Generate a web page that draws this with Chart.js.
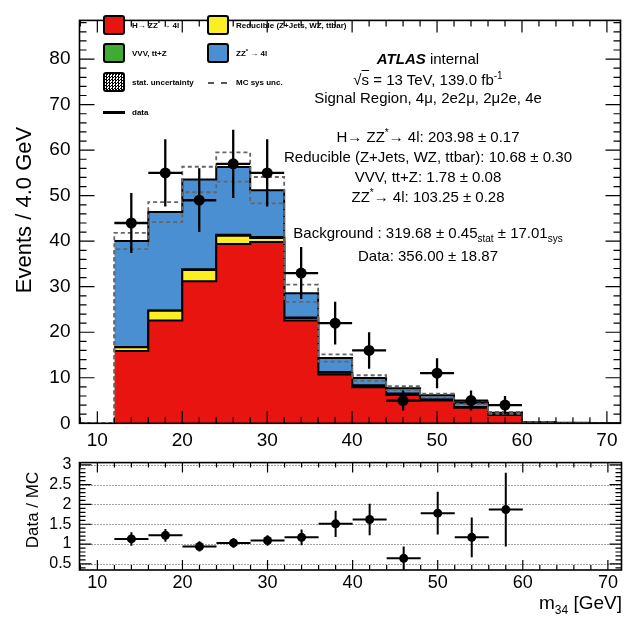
<!DOCTYPE html>
<html>
<head>
<meta charset="utf-8">
<script src="https://cdn.jsdelivr.net/npm/chart.js@4.4.1/dist/chart.umd.min.js"></script>
<style>
  body { margin: 0; background: #fff; }
  #wrap { position: relative; width: 626px; height: 618px; overflow: hidden; font-family: "Liberation Sans", Arial, sans-serif; color: #000; }
  canvas { position: absolute; left: 0; }
  #topChart { top: 0; }
  #ratioChart { top: 445px; }
  .box { position: absolute; width: 22px; height: 20px; border: 2px solid #000; border-radius: 3px; box-sizing: border-box; }
  .leg { position: absolute; font-size: 8px; line-height: 10px; font-weight: bold; white-space: nowrap; transform: translateY(-50%); }
  .leg sup { font-size: 6px; line-height: 0; vertical-align: 3px; }
  .txt { position: absolute; left: 428px; font-size: 15px; line-height: 18px; white-space: nowrap; transform: translate(-50%, -50%); }
  .txt sup { font-size: 10px; line-height: 0; vertical-align: 6px; }
  .txt sub { font-size: 10px; line-height: 0; vertical-align: -4px; }
  .ytitle { position: absolute; white-space: nowrap; transform: translate(-50%, -50%) rotate(-90deg); }
</style>
</head>
<body>
<div id="wrap">
  <canvas id="topChart" width="626" height="450"></canvas>
  <canvas id="ratioChart" width="626" height="173"></canvas>

  <!-- legend -->
  <div class="box" style="left:103px; top:15px; background:#e8140f;"></div>
  <div class="leg" style="left:132px; top:26px;">H&rarr; ZZ<sup>*</sup> &rarr; 4l</div>
  <div class="box" style="left:207px; top:15px; background:#fbee22;"></div>
  <div class="leg" style="left:236px; top:26px;">Reducible (Z+Jets, WZ, ttbar)</div>
  <div class="box" style="left:103px; top:43px; background:#3fab35;"></div>
  <div class="leg" style="left:132px; top:54px;">VVV, tt+Z</div>
  <div class="box" style="left:207px; top:43px; background:#4a8fd2;"></div>
  <div class="leg" style="left:236px; top:54px;">ZZ<sup>*</sup> &rarr; 4l</div>
  <div class="box" style="left:103px; top:72px; background: repeating-conic-gradient(#000 0 25%, #fff 0 50%) 0 0 / 3px 3px;"></div>
  <div class="leg" style="left:132px; top:83px;">stat. uncertainty</div>
  <div style="position:absolute; left:208px; top:82px; width:19px; border-top:2px dashed #555;"></div>
  <div class="leg" style="left:236px; top:83px;">MC sys unc.</div>
  <div style="position:absolute; left:103px; top:111px; width:22px; border-top:3px solid #000;"></div>
  <div class="leg" style="left:132px; top:113px;">data</div>

  <!-- labels -->
  <div class="txt" style="top:59px;"><b><i>ATLAS</i></b> internal</div>
  <div class="txt" style="top:80px;">&radic;<span style="text-decoration:overline">s</span> = 13 TeV, 139.0 fb<sup>-1</sup></div>
  <div class="txt" style="top:98px;">Signal Region, 4&mu;, 2e2&mu;, 2&mu;2e, 4e</div>
  <div class="txt" style="top:137px;">H&rarr; ZZ<sup>*</sup>&rarr; 4l: 203.98 &plusmn; 0.17</div>
  <div class="txt" style="top:157px;">Reducible (Z+Jets, WZ, ttbar): 10.68 &plusmn; 0.30</div>
  <div class="txt" style="top:177px;">VVV, tt+Z: 1.78 &plusmn; 0.08</div>
  <div class="txt" style="top:197px;">ZZ<sup>*</sup>&rarr; 4l: 103.25 &plusmn; 0.28</div>
  <div class="txt" style="top:233px;">Background : 319.68 &plusmn; 0.45<sub>stat</sub> &plusmn; 17.01<sub>sys</sub></div>
  <div class="txt" style="top:256px;">Data: 356.00 &plusmn; 18.87</div>

  <!-- axis titles -->
  <div class="ytitle" style="left:24px; top:210px; font-size:22px;">Events / 4.0 GeV</div>
  <div class="ytitle" style="left:33px; top:510px; font-size:17px;">Data / MC</div>
  <div style="position:absolute; right:4px; top:592px; font-size:19px; white-space:nowrap;">m<sub style="font-size:12px;">34</sub> [GeV]</div>
</div>

<script>
// --- data ---
const binEdges = [12, 16, 20, 24, 28, 32, 36, 40, 44, 48, 52, 56, 60, 64, 68, 72];
const higgs     = [15.9, 22.6, 31.2, 39.4, 39.8, 22.6, 10.7, 7.9, 6.2, 5.0, 3.4, 1.8, 0.10, 0.05, 0];
const reducible = [0.8, 2.1, 2.5, 1.8, 0.9, 0.5, 0.4, 0.3, 0.2, 0.15, 0.1, 0.05, 0, 0, 0];
const vvv       = [0.05, 0.1, 0.15, 0.2, 0.2, 0.15, 0.15, 0.15, 0.12, 0.1, 0.1, 0.05, 0.02, 0.01, 0];
const zz        = [23.3, 21.6, 19.7, 14.9, 10.3, 5.3, 3.1, 1.6, 1.2, 0.9, 0.9, 0.4, 0.13, 0.04, 0];
const sysUnc    = [1.8, 2.2, 2.8, 3.2, 2.9, 1.9, 0.8, 0.6, 0.45, 0.35, 0.3, 0.2, 0.03, 0.01, 0];

const dataX   = [14, 18, 22, 26, 30, 34, 38, 42, 46, 50, 54, 58];
const dataY   = [44, 55, 49, 57, 55, 33, 22, 16, 5, 11, 5, 4];
const dataErr = [6.6, 7.4, 7.0, 7.5, 7.4, 5.7, 4.7, 4.0, 2.2, 3.3, 2.2, 2.0];

const ratioY   = [1.13, 1.22, 0.94, 1.03, 1.09, 1.17, 1.51, 1.62, 0.64, 1.78, 1.17, 1.87];
const ratioErr = [0.17, 0.16, 0.13, 0.12, 0.13, 0.20, 0.33, 0.40, 0.30, 0.54, 0.50, 0.93];

const xTicks      = [10, 20, 30, 40, 50, 60, 70];
const yTicksTop   = [0, 10, 20, 30, 40, 50, 60, 70, 80];
const yTicksRatio = [0.5, 1, 1.5, 2, 2.5, 3];
const binHalf = 2;

Chart.defaults.font.family = "'Liberation Sans', Arial, sans-serif";
Chart.defaults.color = '#000';

// helpers
function cumulate(...parts) {
    return parts[0].map((_, i) => parts.reduce((s, p) => s + p[i], 0));
}
function steps(vals, start) {
    const pts = vals.map((v, i) => ({ x: binEdges[i], y: v }));
    pts.push({ x: binEdges[binEdges.length - 1], y: vals[vals.length - 1] });
    if (start !== undefined) pts.unshift({ x: start, y: 0 });
    return pts;
}
const cRed = cumulate(higgs);
const cYel = cumulate(higgs, reducible);
const cGrn = cumulate(higgs, reducible, vvv);
const cTot = cumulate(higgs, reducible, vvv, zz);
const sysHi = cTot.map((v, i) => v + sysUnc[i]);
const sysLo = cTot.map((v, i) => Math.max(v - sysUnc[i], 0));

// ROOT style frame + inward ticks
const rootFrame = {
    id: 'rootFrame',
    beforeDatasetsDraw(chart, args, o) {
        if (!o.grid) return;
        const { ctx, chartArea: a, scales: { y } } = chart;
        ctx.save();
        ctx.strokeStyle = '#444';
        ctx.lineWidth = 1;
        ctx.setLineDash([1, 2]);
        o.grid.forEach(v => {
            const py = Math.round(y.getPixelForValue(v)) + 0.5;
            ctx.beginPath(); ctx.moveTo(a.left, py); ctx.lineTo(a.right, py); ctx.stroke();
        });
        ctx.restore();
    },
    afterDatasetsDraw(chart, args, o) {
        const { ctx, chartArea: a, scales: { x, y } } = chart;
        ctx.save();
        ctx.strokeStyle = '#000';
        ctx.lineWidth = 1.2;
        ctx.beginPath();
        for (let k = Math.ceil(x.min / o.xMinor); k * o.xMinor <= x.max; k++) {
            const v = k * o.xMinor;
            const major = Math.abs(v / o.xMajor - Math.round(v / o.xMajor)) < 1e-6;
            const len = major ? o.xLen[0] : o.xLen[1];
            const px = x.getPixelForValue(v);
            ctx.moveTo(px, a.bottom); ctx.lineTo(px, a.bottom - len);
            ctx.moveTo(px, a.top); ctx.lineTo(px, a.top + len);
        }
        for (let k = Math.ceil(y.min / o.yMinor - 1e-6); k * o.yMinor <= y.max; k++) {
            const v = k * o.yMinor;
            const major = Math.abs(v / o.yMajor - Math.round(v / o.yMajor)) < 1e-6;
            const len = major ? o.yLen[0] : o.yLen[1];
            const py = y.getPixelForValue(v);
            ctx.moveTo(a.left, py); ctx.lineTo(a.left + len, py);
            ctx.moveTo(a.right, py); ctx.lineTo(a.right - len, py);
        }
        ctx.stroke();
        ctx.lineWidth = 1.6;
        ctx.strokeRect(a.left, a.top, a.width, a.height);
        ctx.restore();
    }
};

// error bars for data points
const errorBars = {
    id: 'errorBars',
    afterDatasetsDraw(chart) {
        const { ctx, chartArea: a, scales: { x, y } } = chart;
        chart.data.datasets.forEach(ds => {
            if (!ds.errY) return;
            ctx.save();
            ctx.beginPath(); ctx.rect(a.left, a.top, a.width, a.height); ctx.clip();
            ctx.strokeStyle = '#000';
            ctx.lineWidth = ds.errWidth;
            ds.data.forEach((p, i) => {
                const px = x.getPixelForValue(p.x), py = y.getPixelForValue(p.y);
                ctx.beginPath();
                ctx.moveTo(x.getPixelForValue(p.x - binHalf), py);
                ctx.lineTo(x.getPixelForValue(p.x + binHalf), py);
                ctx.moveTo(px, y.getPixelForValue(p.y - ds.errY[i]));
                ctx.lineTo(px, y.getPixelForValue(p.y + ds.errY[i]));
                ctx.stroke();
            });
            ctx.restore();
        });
    }
};

function histLine(vals, color, fill) {
    return {
        data: steps(vals), stepped: true, borderColor: '#000', borderWidth: 2,
        backgroundColor: color, fill: fill, pointRadius: 0
    };
}
function sysLine(vals) {
    return {
        data: steps(vals, 8), stepped: true, borderColor: '#666', borderWidth: 1.8,
        borderDash: [4, 3], fill: false, pointRadius: 0
    };
}

const xScale = (h, pad, size) => ({
    type: 'linear', min: 7.9, max: 71.6,
    grid: { display: false, drawTicks: false }, border: { display: false },
    afterBuildTicks: s => { s.ticks = xTicks.map(v => ({ value: v })); },
    afterFit: s => { s.height = h; },
    ticks: { padding: pad, maxRotation: 0, autoSkip: false, font: { size: size } }
});

// --- upper panel ---
new Chart(document.getElementById('topChart'), {
    type: 'line',
    data: {
        datasets: [
            {
                data: dataX.map((v, i) => ({ x: v, y: dataY[i] })),
                showLine: false, pointRadius: 5.5, pointBackgroundColor: '#000', pointBorderWidth: 0,
                errY: dataErr, errWidth: 2.3
            },
            sysLine(sysHi),
            sysLine(sysLo),
            histLine(cRed, '#e8140f', 'origin'),
            histLine(cYel, '#fbee22', '-1'),
            histLine(cGrn, '#3fab35', '-1'),
            histLine(cTot, '#4a8fd2', '-1')
        ]
    },
    options: {
        responsive: false, animation: false,
        layout: { padding: { left: 0, right: 4.5, top: 11.7, bottom: 0 } },
        plugins: {
            legend: { display: false }, tooltip: { enabled: false },
            rootFrame: { xMajor: 10, xMinor: 2, xLen: [12, 6], yMajor: 10, yMinor: 2, yLen: [15, 7] }
        },
        scales: {
            x: xScale(26.7, 6, 19),
            y: {
                min: 0, max: 88.5,
                grid: { display: false, drawTicks: false }, border: { display: false },
                afterBuildTicks: s => { s.ticks = yTicksTop.map(v => ({ value: v })); },
                afterFit: s => { s.width = 79.5; },
                ticks: { padding: 9, autoSkip: false, font: { size: 19 } }
            }
        }
    },
    plugins: [rootFrame, errorBars]
});

// --- ratio panel ---
new Chart(document.getElementById('ratioChart'), {
    type: 'line',
    data: {
        datasets: [{
            data: dataX.map((v, i) => ({ x: v, y: ratioY[i] })),
            showLine: false, pointRadius: 4.5, pointBackgroundColor: '#000', pointBorderWidth: 0,
            errY: ratioErr, errWidth: 2
        }]
    },
    options: {
        responsive: false, animation: false,
        layout: { padding: { left: 0, right: 4.5, top: 7.7, bottom: 0 } },
        plugins: {
            legend: { display: false }, tooltip: { enabled: false },
            rootFrame: { xMajor: 10, xMinor: 2, xLen: [10, 5], yMajor: 0.5, yMinor: 0.1, yLen: [12, 6], grid: yTicksRatio }
        },
        scales: {
            x: xScale(48, 2, 18),
            y: {
                min: 0.346, max: 3.055,
                grid: { display: false, drawTicks: false }, border: { display: false },
                afterBuildTicks: s => { s.ticks = yTicksRatio.map(v => ({ value: v })); },
                afterFit: s => { s.width = 79.5; },
                ticks: { padding: 8, autoSkip: false, font: { size: 16 }, callback: v => String(v) }
            }
        }
    },
    plugins: [rootFrame, errorBars]
});
</script>
</body>
</html>
